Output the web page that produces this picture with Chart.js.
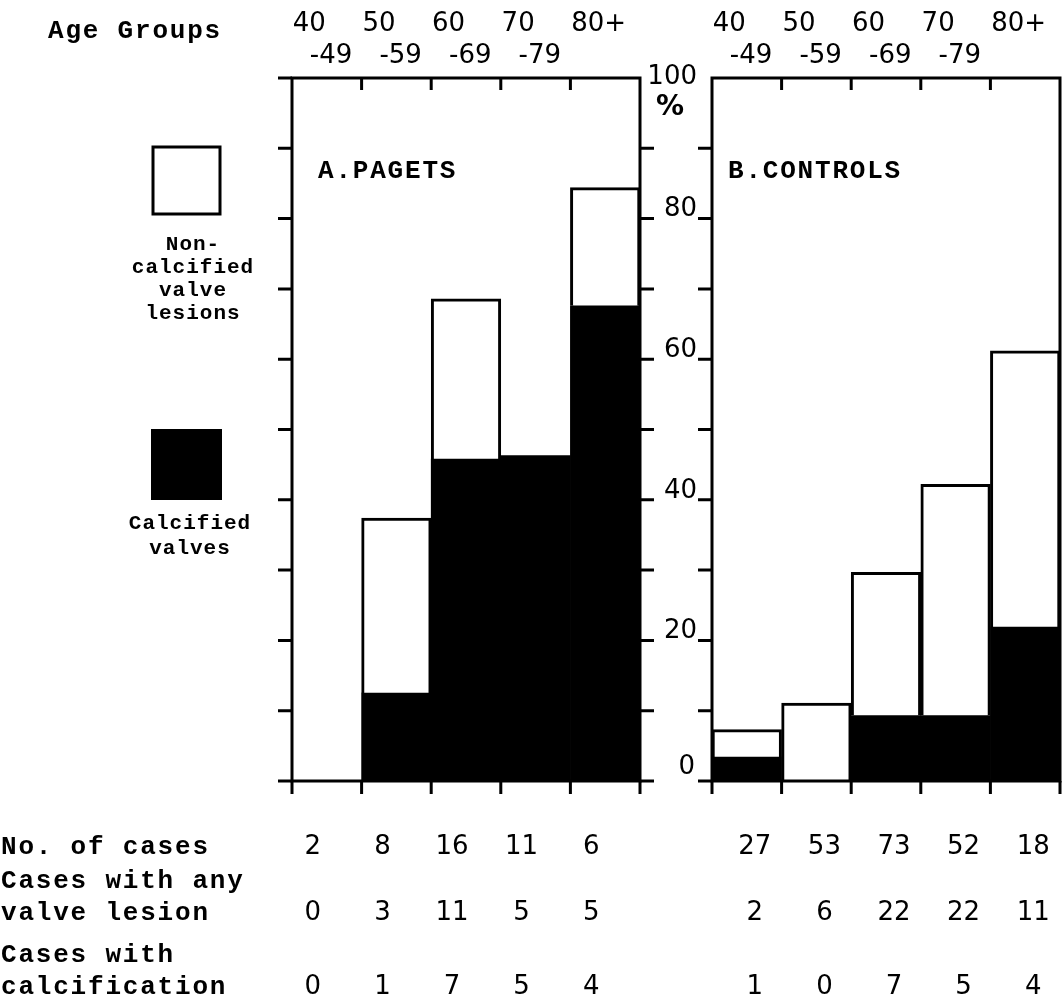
<!DOCTYPE html>
<html>
<head>
<meta charset="utf-8">
<title>Valve lesions by age group</title>
<script src="https://cdn.jsdelivr.net/npm/chart.js@4.4.1/dist/chart.umd.min.js"></script>
<style>
  body { margin: 0; background: #fff; }
  #wrap { position: relative; width: 1063px; height: 1001px; overflow: hidden; background: #fff; }
  canvas { position: absolute; top: 0; }
  #chartA { left: 0; }
  #chartB { left: 680px; }
</style>
</head>
<body>
<div id="wrap">
  <canvas id="chartA" width="710" height="1001"></canvas>
  <canvas id="chartB" width="383" height="1001"></canvas>
</div>
<script>
// Age groups (two lines on the top axis)
let ageTop = ["40", "50", "60", "70", "80+"];
let ageBottom = ["-49", "-59", "-69", "-79", ""];

// A. Pagets - % with any valve lesion / % calcified
let pagetsAny = [0, 37.4, 68.6, 46.3, 84.4];
let pagetsCalc = [0, 12.5, 45.8, 46.3, 67.6];
let pagetsCases = [2, 8, 16, 11, 6];
let pagetsLesion = [0, 3, 11, 5, 5];
let pagetsCalcCases = [0, 1, 7, 5, 4];

// B. Controls
let controlsAny = [7.3, 11.1, 29.7, 42.2, 61.2];
let controlsCalc = [3.4, 0, 9.3, 9.3, 21.9];
let controlsCases = [27, 53, 73, 52, 18];
let controlsLesion = [2, 6, 22, 22, 11];
let controlsCalcCases = [1, 0, 7, 5, 4];

// y axis
let yTicks = [0, 10, 20, 30, 40, 50, 60, 70, 80, 90, 100];
let yLabels = [0, 20, 40, 60, 80, 100];

// table under the charts
let rowNames = [["No. of cases"], ["Cases with any", "valve lesion"], ["Cases with", "calcification"]];
let rowY = [847, 913, 987];

let typeFont = "bold 26px 'Liberation Mono'";
let handFont = "26px 'DejaVu Sans'";

function drawText(ctx, text, x, y, font, align, spacing) {
  ctx.font = font;
  ctx.letterSpacing = (spacing || 0) + "px";
  ctx.textAlign = align || "left";
  ctx.textBaseline = "middle";
  ctx.fillStyle = "#000";
  ctx.fillText(text, x, y);
}

// Left side: heading, legend and row names
function drawPageText(ctx) {
  drawText(ctx, "Age Groups", 48, 31, typeFont, "left", 1.8);

  ctx.lineWidth = 3;
  ctx.strokeStyle = "#000";
  ctx.strokeRect(153, 147, 67, 67);
  ctx.fillRect(151, 429, 71, 71);

  let legendFont = "bold 21px 'Liberation Mono'";
  ["Non-", "calcified", "valve", "lesions"].forEach((t, i) => {
    drawText(ctx, t, 193, 245 + i * 23, legendFont, "center", 1);
  });
  ["Calcified", "valves"].forEach((t, i) => {
    drawText(ctx, t, 190, 524 + i * 25, legendFont, "center", 1);
  });

  rowNames.forEach((lines, r) => {
    lines.forEach((t, k) => {
      let y = rowY[r] - (lines.length - 1 - k) * 32;
      drawText(ctx, t, 1, y, typeFont, "left", 1.8);
    });
  });
}

function framePlugin(opts) {
  return {
    id: "frame",
    afterDraw(chart) {
      let ctx = chart.ctx;
      let a = chart.chartArea;
      let x = chart.scales.x, y = chart.scales.y;
      let band = x.getPixelForValue(1) - x.getPixelForValue(0);
      ctx.save();

      // box and tick marks
      ctx.strokeStyle = "#000";
      ctx.lineWidth = 3;
      ctx.strokeRect(a.left, a.top, a.right - a.left, a.bottom - a.top);
      ctx.beginPath();
      opts.leftTicks.forEach(v => {
        let py = y.getPixelForValue(v);
        ctx.moveTo(a.left - 14, py);
        ctx.lineTo(a.left, py);
      });
      opts.rightTicks.forEach(v => {
        let py = y.getPixelForValue(v);
        ctx.moveTo(a.right, py);
        ctx.lineTo(a.right + 14, py);
      });
      for (let i = 0; i <= ageTop.length; i++) {
        let px = x.getPixelForValue(i) - band / 2;
        ctx.moveTo(px, a.bottom);
        ctx.lineTo(px, a.bottom + 13);
        if (i > 0 && i < ageTop.length) {
          ctx.moveTo(px, a.top);
          ctx.lineTo(px, a.top + 12);
        }
      }
      ctx.stroke();

      // age groups on top
      ageTop.forEach((t, i) => {
        let cx = x.getPixelForValue(i);
        drawText(ctx, t, cx - 34, 24, handFont, "left");
        drawText(ctx, ageBottom[i], cx - 17, 56, handFont, "left");
      });

      // panel title
      drawText(ctx, opts.title, a.left + opts.titleShift, 171, typeFont, "left", 1.8);

      // counts under each column
      opts.rows.forEach((row, r) => {
        row.forEach((v, i) => {
          drawText(ctx, String(v), x.getPixelForValue(i) + opts.numShift, rowY[r], handFont, "center");
        });
      });

      // % labels between the panels
      if (opts.yLabels) {
        opts.yLabels.forEach(v => {
          let py = y.getPixelForValue(v);
          if (v === 100) {
            drawText(ctx, "100", a.right + 57, py - 1, handFont, "right");
            drawText(ctx, "%", a.right + 30, py + 30, "bold 28px 'DejaVu Sans'", "center");
          } else if (v === 0) {
            drawText(ctx, "0", a.right + 55, py - 14, handFont, "right");
          } else {
            drawText(ctx, String(v), a.right + 57, py - 9, handFont, "right");
          }
        });
      }

      if (opts.extra) opts.extra(ctx);
      ctx.restore();
    }
  };
}

function makePanel(id, anyVals, calcVals, padding, opts) {
  let ctx = document.getElementById(id).getContext("2d");
  return new Chart(ctx, {
    type: "bar",
    data: {
      labels: ageTop.map((t, i) => t + ageBottom[i]),
      datasets: [
        {
          label: "Calcified valves",
          data: calcVals,
          backgroundColor: "#000",
          borderWidth: 0,
          grouped: false,
          barPercentage: 1,
          categoryPercentage: 1
        },
        {
          label: "Non-calcified valve lesions",
          data: anyVals.map((v, i) => [calcVals[i], v]),
          backgroundColor: "#fff",
          borderColor: "#000",
          borderWidth: 3,
          borderSkipped: "start",
          grouped: false,
          barPercentage: 1,
          categoryPercentage: 1
        }
      ]
    },
    options: {
      responsive: false,
      animation: false,
      layout: { padding: padding },
      plugins: { legend: { display: false }, tooltip: { enabled: false } },
      scales: {
        x: { display: false },
        y: { display: false, min: 0, max: 100 }
      }
    },
    plugins: [framePlugin(opts)]
  });
}

makePanel("chartA", pagetsAny, pagetsCalc, { left: 292, right: 70, top: 78, bottom: 220 }, {
  title: "A.PAGETS",
  titleShift: 26,
  leftTicks: yTicks,
  rightTicks: yTicks.slice(0, 10),
  yLabels: yLabels,
  numShift: -14,
  rows: [pagetsCases, pagetsLesion, pagetsCalcCases],
  extra: drawPageText
});

makePanel("chartB", controlsAny, controlsCalc, { left: 32, right: 3, top: 78, bottom: 220 }, {
  title: "B.CONTROLS",
  titleShift: 16,
  leftTicks: yTicks.slice(0, 10),
  rightTicks: [],
  numShift: 8,
  rows: [controlsCases, controlsLesion, controlsCalcCases]
});
</script>
</body>
</html>
